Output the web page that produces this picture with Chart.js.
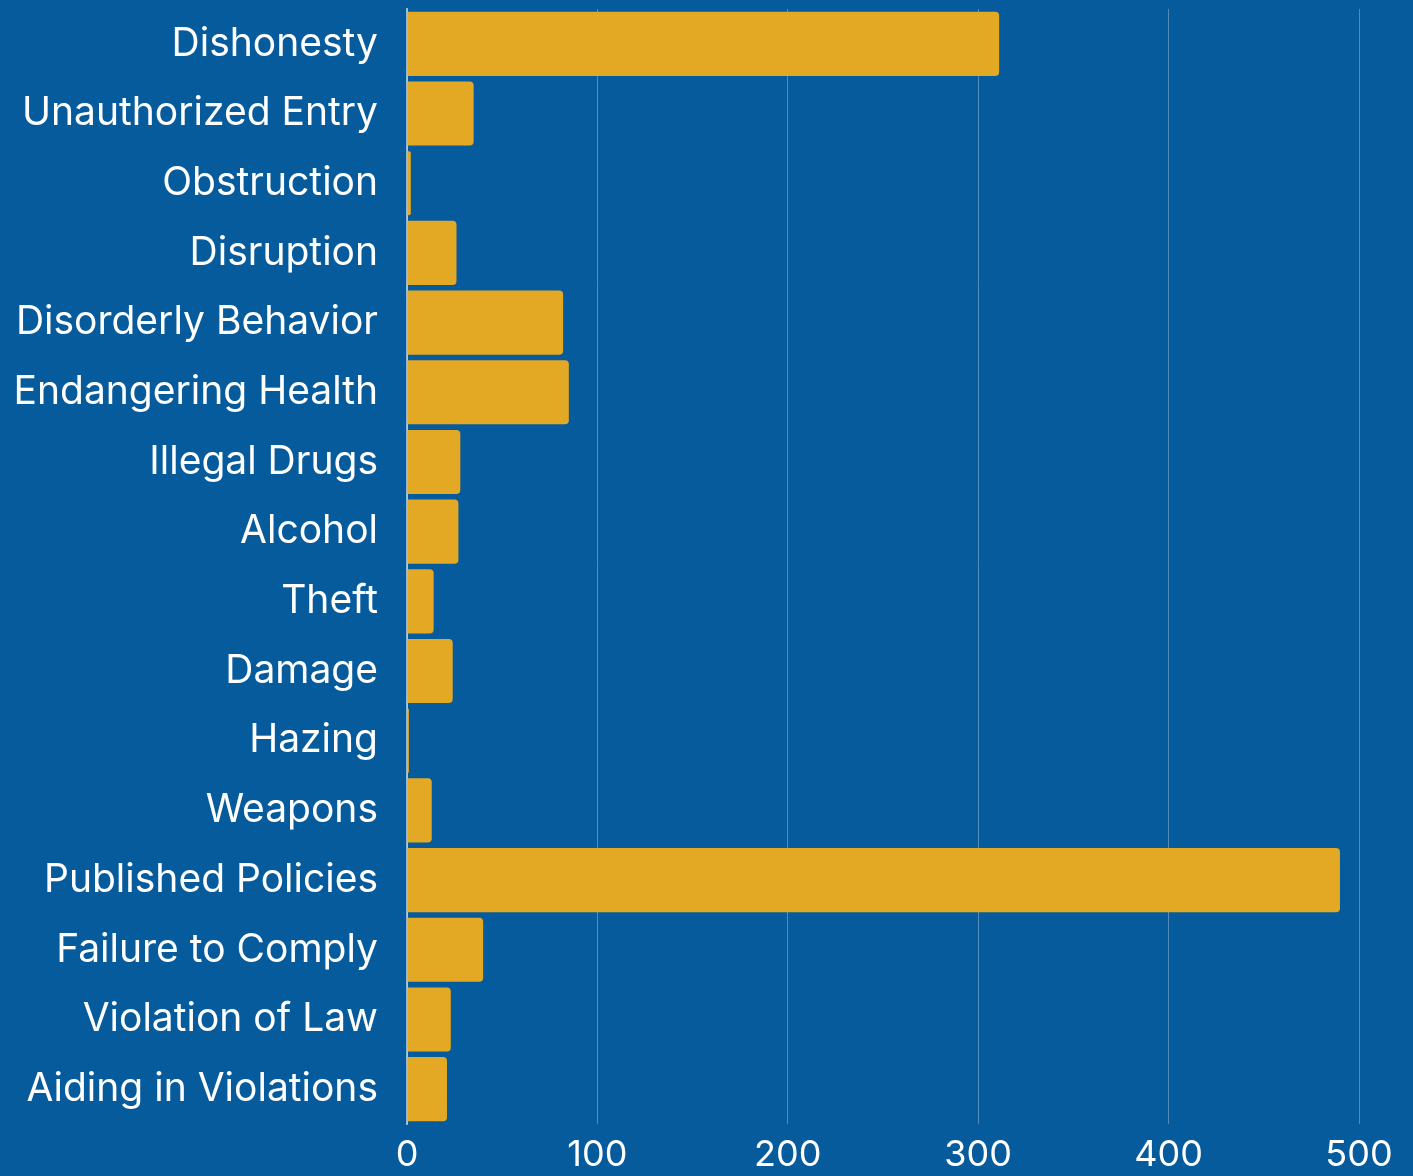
<!DOCTYPE html>
<html>
<head>
<meta charset="utf-8">
<script src="https://cdn.jsdelivr.net/npm/chart.js@4"></script>
<style>
html,body{margin:0;padding:0;background:#065B9C;overflow:hidden;}
#wrap{width:1413px;height:1176px;position:relative;}
</style>
</head>
<body>
<div id="wrap"><canvas id="c" width="1413" height="1176"></canvas></div>
<script>
const categories = ["Dishonesty","Unauthorized Entry","Obstruction","Disruption","Disorderly Behavior","Endangering Health","Illegal Drugs","Alcohol","Theft","Damage","Hazing","Weapons","Published Policies","Failure to Comply","Violation of Law","Aiding in Violations"];
const counts = [311,35,2,26,82,85,28,27,14,24,1,13,490,40,23,21];
const xTicks = [0,100,200,300,400,500];

const FONT = "Inter, 'Noto Sans', sans-serif";

new Chart(document.getElementById('c'), {
  type: 'bar',
  data: {
    labels: categories,
    datasets: [{
      data: counts,
      backgroundColor: '#E4A924',
      borderRadius: 4,
      borderSkipped: 'start',
      barPercentage: 0.92,
      categoryPercentage: 1.0
    }]
  },
  options: {
    indexAxis: 'y',
    responsive: false,
    animation: false,
    layout: { padding: { top: 9, right: 54, left: 0, bottom: 0 } },
    plugins: { legend: { display: false }, tooltip: { enabled: false } },
    scales: {
      x: {
        min: 0, max: 500,
        afterBuildTicks: s => { s.ticks = xTicks.map(v => ({ value: v })); },
        afterFit: s => { s.height = 52; s.paddingLeft = 0; s.paddingRight = 0; },
        grid: { color: 'rgba(255,255,255,0.3)', lineWidth: 1, drawTicks: false },
        border: { display: false },
        ticks: { color: '#ffffff', font: { family: FONT, size: 36 }, padding: 10, maxRotation: 0 }
      },
      y: {
        afterFit: s => { s.width = 407; s.paddingTop = 0; s.paddingBottom = 0; },
        grid: { display: false, drawTicks: false },
        border: { display: true, color: 'rgba(255,255,255,0.55)', width: 2 },
        ticks: { color: '#ffffff', font: { family: FONT, size: 39 }, padding: 29 }
      }
    }
  }
});
</script>
</body>
</html>
